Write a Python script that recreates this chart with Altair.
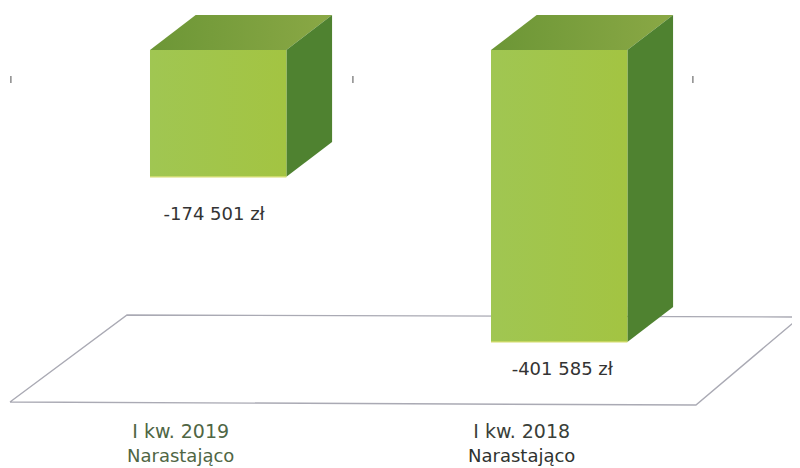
import altair as alt
import pandas as pd

# --- chart values ---
categories = ["I kw. 2019", "I kw. 2018"]
subtitle = ["Narastająco", "Narastająco"]
bar_index = [0, 1]
values = [-174501, -401585]
value_labels = ["-174 501 zł", "-401 585 zł"]
value_label_x = [0.188, 1.209]
value_label_y = [-227000, -440200]
category_y = [-525400, -559800]
category_colors = ["#4f6644", "#3a3f3a"]
subtitle_colors = ["#4f6644", "#2f332f"]

tick_index = [-0.408, 0.595, 1.592]
tick_top = [-35800, -35800, -35800]
tick_bottom = [-45400, -45400, -45400]

floor_x = [-0.4106, -0.0674, 1.9062, 1.601, -0.4106]
floor_y = [-484200, -364500, -367300, -488300, -484200]

BAR_W = 0.4
DEPTH_X = 0.134
DEPTH_Y = 48100

x_scale = alt.Scale(domain=[-0.4164, 1.8827], nice=False, zero=False)
y_scale = alt.Scale(domain=[-574966, 57772], nice=False, zero=False)
X = lambda f, **k: alt.X(f, type="quantitative", scale=x_scale, axis=None, **k)
Y = lambda f, **k: alt.Y(f, type="quantitative", scale=y_scale, axis=None, **k)

# --- derived tables ---
front = pd.DataFrame({"x": bar_index, "v": values})
front["x2"] = front["x"] + BAR_W
front["top"] = 0

side_rows, top_rows = [], []
for i, v in zip(bar_index, values):
    side_rows += [
        {"bar": i, "x": i + BAR_W, "y": 0, "y2": v},
        {"bar": i, "x": i + BAR_W + DEPTH_X, "y": DEPTH_Y, "y2": v + DEPTH_Y},
    ]
    top_rows += [
        {"bar": i, "y": 0, "x": i, "x2": i + BAR_W},
        {"bar": i, "y": DEPTH_Y, "x": i + DEPTH_X, "x2": i + BAR_W + DEPTH_X},
    ]
side = pd.DataFrame(side_rows)
tops = pd.DataFrame(top_rows)
floor = pd.DataFrame({"x": floor_x, "y": floor_y, "o": range(len(floor_x))})
ticks = pd.DataFrame({"x": tick_index, "y": tick_top, "y2": tick_bottom})
vlabels = pd.DataFrame({"x": value_label_x, "y": value_label_y, "t": value_labels})
clabels = pd.DataFrame({
    "x": [i + 0.09 for i in bar_index],
    "y": category_y[0], "t": categories, "c": category_colors,
})
slabels = pd.DataFrame({
    "x": [i + 0.09 for i in bar_index],
    "y": category_y[1], "t": subtitle, "c": subtitle_colors,
})

# --- layers ---
floor_layer = alt.Chart(floor).mark_line(color="#aaaab4", strokeWidth=1.4).encode(
    x=X("x"), y=Y("y"), order="o:Q"
)
tick_layer = alt.Chart(ticks).mark_rule(color="#8a8a8a", strokeWidth=1.5).encode(
    x=X("x"), y=Y("y"), y2="y2:Q"
)
side_layer = alt.Chart(side).mark_area(color="#4f8230", opacity=1).encode(
    x=X("x"), y=Y("y"), y2="y2:Q", detail="bar:N"
)
top_layer = alt.Chart(tops).mark_area(
    orient="horizontal",
    color=alt.Gradient(
        gradient="linear",
        stops=[alt.GradientStop(offset=0, color="#6c9636"),
               alt.GradientStop(offset=1, color="#8aa845")],
        x1=0, x2=1, y1=0, y2=0,
    ),
).encode(y=Y("y"), x=X("x"), x2="x2:Q", detail="bar:N")
front_layer = alt.Chart(front).mark_rect(
    color=alt.Gradient(
        gradient="linear",
        stops=[alt.GradientStop(offset=0, color="#a0c652"),
               alt.GradientStop(offset=1, color="#a3c442")],
        x1=0, x2=1, y1=0, y2=0,
    ),
).encode(x=X("x"), x2="x2:Q", y=Y("top"), y2="v:Q")
edge_layer = alt.Chart(front).mark_rule(color="#d3dc6c", strokeWidth=1.2).encode(
    x=X("x"), x2="x2:Q", y=Y("v")
)
vlabel_layer = alt.Chart(vlabels).mark_text(
    font="DejaVu Sans", fontSize=18, color="#333333", baseline="middle", align="center"
).encode(x=X("x"), y=Y("y"), text="t:N")
clabel_layer = alt.Chart(clabels).mark_text(
    font="DejaVu Sans", fontSize=19, baseline="middle", align="center"
).encode(x=X("x"), y=Y("y"), text="t:N", color=alt.Color("c:N", scale=None))
slabel_layer = alt.Chart(slabels).mark_text(
    font="DejaVu Sans", fontSize=18, baseline="middle", align="center"
).encode(x=X("x"), y=Y("y"), text="t:N", color=alt.Color("c:N", scale=None))

chart = alt.layer(
    floor_layer, tick_layer, top_layer, side_layer, front_layer, edge_layer,
    vlabel_layer, clabel_layer, slabel_layer,
).properties(
    width=784, height=460, padding=0, background="white",
    autosize=alt.AutoSizeParams(type="none"),
).configure_view(stroke=None)

chart.save("out.html", embed_options={"renderer": "svg", "actions": False})
